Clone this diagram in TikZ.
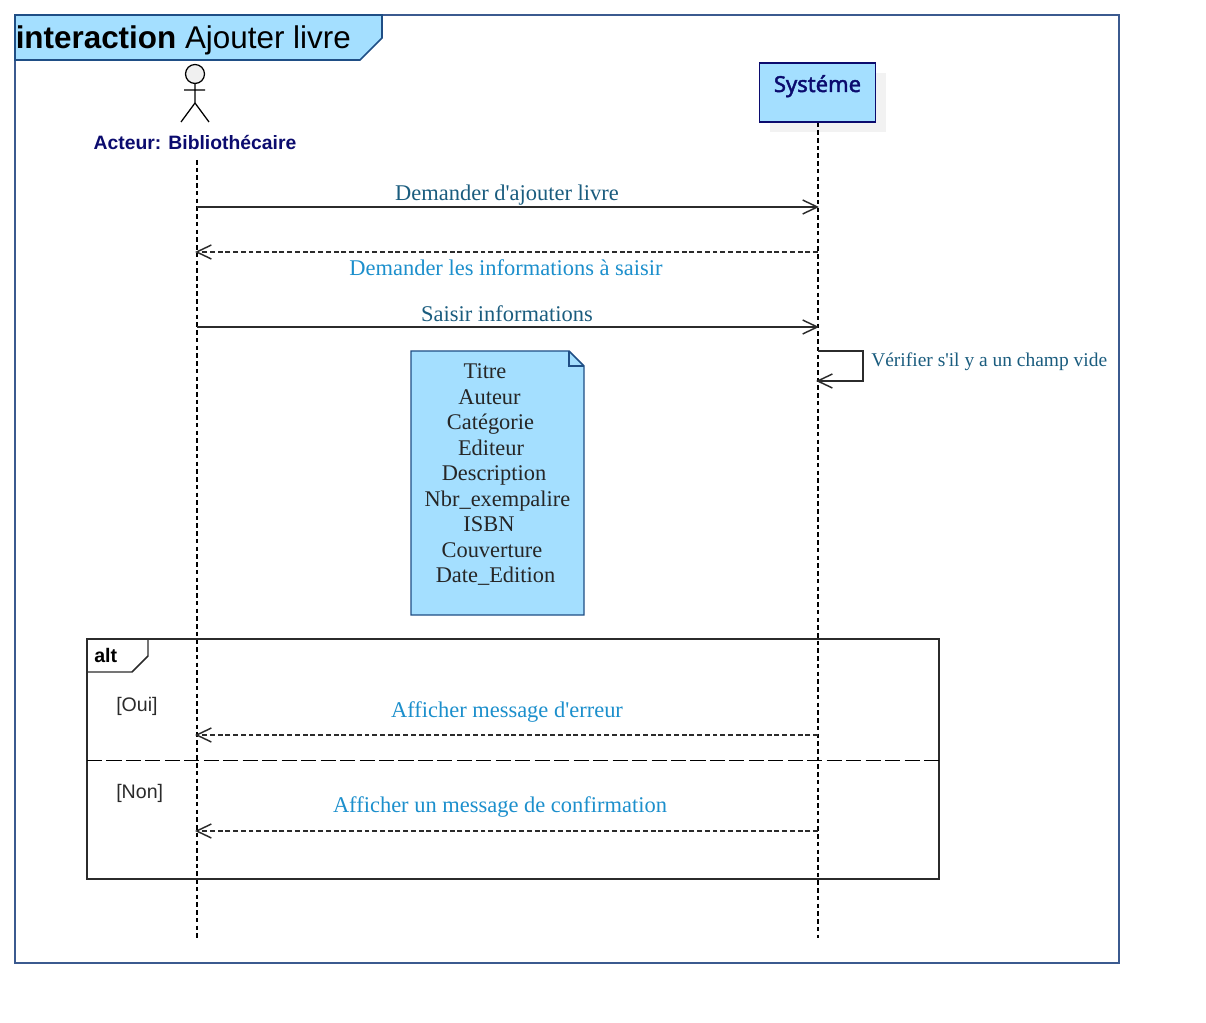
\documentclass[tikz,border=0pt]{standalone}
\usepackage{fontspec}
\setmainfont{Liberation Serif}[Ligatures=TeXOff]
\setsansfont{Liberation Sans}
\newfontfamily\sysfont{Noto Sans}[FakeBold=2]
\usetikzlibrary{arrows.meta}
\definecolor{lightfill}{HTML}{A4DFFF}
\definecolor{framecol}{HTML}{3B5A8F}
\definecolor{notecol}{HTML}{1F4E85}
\definecolor{headcol}{HTML}{0B0B6E}
\definecolor{msgdark}{HTML}{1A5C7E}
\definecolor{msglight}{HTML}{1C8FCC}
\definecolor{linecol}{HTML}{2B2B2B}
\tikzset{
	lifeline/.style = {black, line width = 0.8pt, dash pattern = on 3.4pt off 2.4pt},
	msg/.style = {linecol, line width = 1.05pt, ->},
	reply/.style = {linecol, line width = 1pt, ->, dash pattern = on 3.7pt off 2.1pt},
	msgtext/.style = {anchor = base, font = \fontsize{16.85}{20}\selectfont},
	notetext/.style = {anchor = base, text = black!85, font = \fontsize{16.8}{20}\selectfont},
	guard/.style = {anchor = base west, inner sep = 0pt, text = linecol, font = \sffamily\fontsize{14.7}{18}\selectfont}
}
\begin{document}
\begin{tikzpicture}[x = 0.75pt, y = -0.75pt, >={Straight Barb[length = 11pt, width = 10.5pt, line width = 1.1pt]}]
	\useasboundingbox (0, 0) rectangle (1206, 1023);
	% outer frame and its title
	\draw[framecol, line width = 1.2pt] (15, 15) rectangle (1119, 963);
	\draw[fill = lightfill, draw = notecol, line width = 1.2pt] (15, 15) -- (382, 15) -- (382, 38) -- (360, 60) -- (15, 60) -- cycle;
	\node[anchor = base west, inner sep = 0pt, font = \sffamily\fontsize{23.55}{28}\selectfont] (title) at (15.5, 49) {\textbf{interaction} Ajouter livre};
	% actor
	\draw[fill = black!6, draw = black, line width = 0.95pt] (195, 74) circle (9.5);
	\draw[black, line width = 0.95pt] (195, 84) -- (195, 103) (184, 90) -- (205, 90) (181, 122) -- (195, 103) -- (209, 122);
	\node[anchor = base, text = headcol, font = \sffamily\bfseries\fontsize{14.5}{18}\selectfont] (acteur) at (195, 149.5) {Acteur: Bibliothécaire};
	% system box
	\fill[black!5] (770, 73) rectangle (886, 132);
	\node[draw = headcol, fill = lightfill, line width = 1.1pt, minimum width = 87pt, minimum height = 44pt, inner sep = 0pt] (systeme) at (817.5, 92.5) {};
	\node[anchor = base, text = headcol, font = \sysfont\fontsize{16.5}{18}\selectfont] (systemetxt) at (817.5, 92) {Systéme};
	% lifelines
	\coordinate (actortop) at (197, 160);
	\coordinate (actorend) at (197, 940);
	\coordinate (sysend) at (818, 938);
	\draw[lifeline] (actortop) -- (actorend);
	\draw[lifeline] (systeme.south -| sysend) -- (sysend);
	% messages
	\coordinate (a1) at (197, 207);
	\coordinate (s1) at (819, 207);
	\coordinate (s2) at (818, 252);
	\coordinate (a2) at (195, 252);
	\coordinate (a3) at (197, 327);
	\coordinate (s3) at (819, 327);
	\coordinate (s4) at (818, 351);
	\coordinate (s5) at (816, 381);
	\coordinate (s6) at (818, 735);
	\coordinate (a6) at (195, 735);
	\coordinate (s7) at (818, 831);
	\coordinate (a7) at (195, 831);
	\draw[msg] (a1) -- (s1);
	\draw[reply] (s2) -- (a2);
	\draw[msg] (a3) -- (s3);
	\draw[msg] (s4) -- (863, 351) -- (863, 381) -- (s5);
	\draw[reply] (s6) -- (a6);
	\draw[reply] (s7) -- (a7);
	\node[msgtext, text = msgdark] (m1) at (507, 201) {Demander d'ajouter livre};
	\node[msgtext, text = msglight] (m2) at (506, 276) {Demander les informations à saisir};
	\node[msgtext, text = msgdark] (m3) at (507, 322) {Saisir informations};
	\node[anchor = base west, inner sep = 0pt, text = msgdark, font = \fontsize{14.6}{18}\selectfont] (m4) at (871, 367) {Vérifier s'il y a un champ vide};
	\node[msgtext, text = msglight] (m6) at (507, 717) {Afficher message d'erreur};
	\node[msgtext, text = msglight] (m7) at (500, 812) {Afficher un message de confirmation};
	% note
	\draw[fill = lightfill, draw = notecol, line width = 1.1pt] (411, 351) -- (569, 351) -- (584, 366) -- (584, 615) -- (411, 615) -- cycle;
	\draw[draw = notecol, line width = 1.1pt] (569, 351) -- (569, 366) -- (584, 366);
	\foreach \txt/\xx/\yy [count = \i] in {Titre/485/378.5, Auteur/489.5/404, Catégorie/490.5/429, Editeur/491/455, Description/494/480, Nbr\_exempalire/497.5/506, ISBN/489/531, Couverture/492/557, Date\_Edition/495.5/582}
		\node[notetext] (note\i) at (\xx, \yy) {\txt};
	% alt fragment
	\draw[linecol, line width = 1.1pt] (87, 639) rectangle (939, 879);
	\draw[linecol, line width = 1.1pt] (148, 639) -- (148, 656) -- (132, 672) -- (87, 672);
	\node[anchor = base west, inner sep = 0pt, font = \sffamily\bfseries\fontsize{14.7}{18}\selectfont] (alt) at (94, 662) {alt};
	\coordinate (sepleft) at (87, 760.5);
	\coordinate (sepright) at (939, 760.5);
	\draw[black, line width = 1.05pt, dash pattern = on 11.3pt off 3.3pt] (sepleft) -- (sepright);
	\node[guard] (oui) at (116, 711) {[Oui]};
	\node[guard] (non) at (116, 798) {[Non]};
\end{tikzpicture}
\end{document}
